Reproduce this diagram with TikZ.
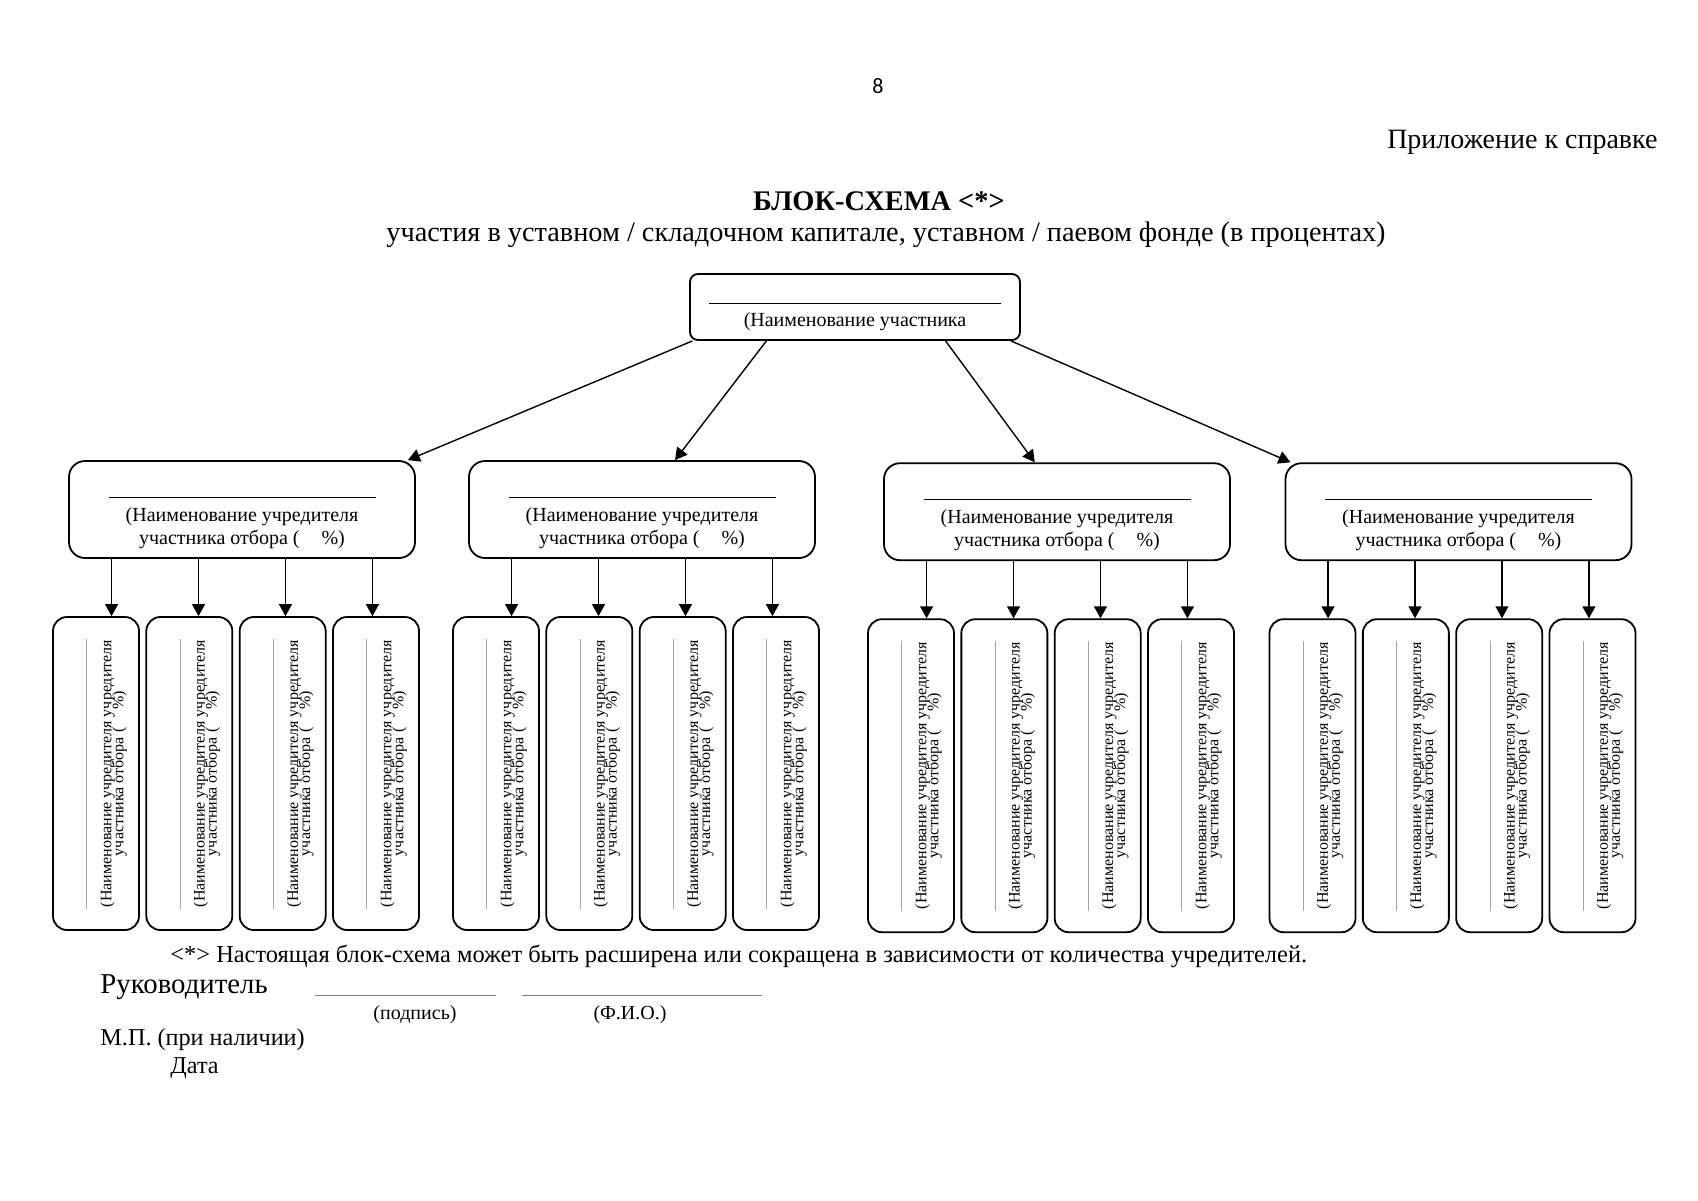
\documentclass[tikz,border=0pt]{standalone}
\usepackage{fontspec}
\setmainfont{Liberation Serif}
\newfontfamily\pagenumfont{Carlito}
\usetikzlibrary{arrows.meta,calc,positioning}

\tikzset{
  box/.style={draw, line width=0.9pt, inner sep=0pt},
  rootbox/.style={box, rounded corners=4pt, minimum width=165pt, minimum height=33pt},
  founderbox/.style={box, rounded corners=8pt, minimum width=173pt, minimum height=48.5pt},
  subbox/.style={box, rounded corners=7pt, minimum width=43pt, minimum height=156.5pt},
  boxtext/.style={align=center, inner sep=0pt, font=\fontsize{10}{11.5}\selectfont},
  subtext/.style={align=center, inner sep=0pt, rotate=90, font=\fontsize{8}{9}\selectfont},
  arr/.style={line width=0.7pt, -{Triangle[length=6pt,width=6.5pt]}}
}

\begin{document}
\begin{tikzpicture}[x=1pt, y=-1pt]
\useasboundingbox (0,0) rectangle (849,600);
\node[font=\pagenumfont\fontsize{11}{13}\selectfont] (pagenum) at (439,43) {8};
\node[anchor=east, font=\fontsize{14}{16}\selectfont] (appendix) at (832.3,71) {Приложение к справке};
\node[font=\bfseries\fontsize{14.2}{16}\selectfont] (title) at (439.5,100.5) {БЛОК-СХЕМА <*>};
\node[font=\fontsize{14.15}{16}\selectfont] (subtitle) at (443,117.5) {участия в уставном / складочном капитале, уставном / паевом фонде (в процентах)};

\node[rootbox] (participant) at (427.5,153.5) {};
\node[boxtext] (participant-label) at ([yshift=-5pt]participant.center) {\rule{146pt}{0.6pt}\\(Наименование участника};

\foreach \g/\cx/\dy in {1/121/0, 2/321/0, 3/528.5/1.1, 4/729.25/1.1} {
  \node[founderbox] (founder\g) at (\cx,254.75+\dy) {};
  \node[boxtext] (founder\g-label) at ([yshift=-6.6pt]founder\g.center) {\rule{133.5pt}{0.6pt}\\(Наименование учредителя\\участника отбора (\hspace{11pt}\%)};
  \foreach \i in {1,...,4} {
    \pgfmathsetmacro\sx{\cx-73+46.67*(\i-1)}
    \pgfmathsetmacro\f{(2*\i-1)/8}
    \node[subbox] (sub\g\i) at (\sx,386.75+\dy) {};
    \node[subtext] (sub\g\i-label) at ([xshift=5.3pt]sub\g\i.center) {\textcolor{gray!70}{\rule{135pt}{0.5pt}}\\[3pt](Наименование учредителя учредителя\\[-3pt]участника отбора (\hspace{9pt}\%)};
    \coordinate (from\g\i) at ($(founder\g.south west)!\f!(founder\g.south east)$);
    \draw[arr] (from\g\i) -- (from\g\i |- sub\g\i.north);
  }
}

\foreach \g/\a/\b in {1/0.01/0.977, 2/0.233/0.595, 3/0.773/0.436, 4/0.97/0.017}
  \draw[arr] ($(participant.south west)!\a!(participant.south east)$) -- ($(founder\g.north west)!\b!(founder\g.north east)$);

\node[anchor=west, font=\fontsize{12.2}{14}\selectfont] (note) at (81.7,478) {<*> Настоящая блок-схема может быть расширена или сокращена в зависимости от количества учредителей.};
\node[anchor=west, font=\fontsize{14.4}{16}\selectfont] (head) at (46.7,493.5) {Руководитель};
\draw[gray, line width=0.5pt] (157.5,497.5) -- (248,497.5);
\draw[gray, line width=0.5pt] (261,497.5) -- (381,497.5);
\node[font=\fontsize{10}{12}\selectfont] (sign) at (207.5,507.5) {(подпись)};
\node[font=\fontsize{10}{12}\selectfont] (fio) at (315,507.5) {(Ф.И.О.)};
\node[anchor=west, font=\fontsize{12.1}{14}\selectfont] (stamp) at (46.7,520) {М.П. (при наличии)};
\node[anchor=west, font=\fontsize{12.1}{14}\selectfont] (date) at (81.7,534) {Дата};
\end{tikzpicture}
\end{document}
